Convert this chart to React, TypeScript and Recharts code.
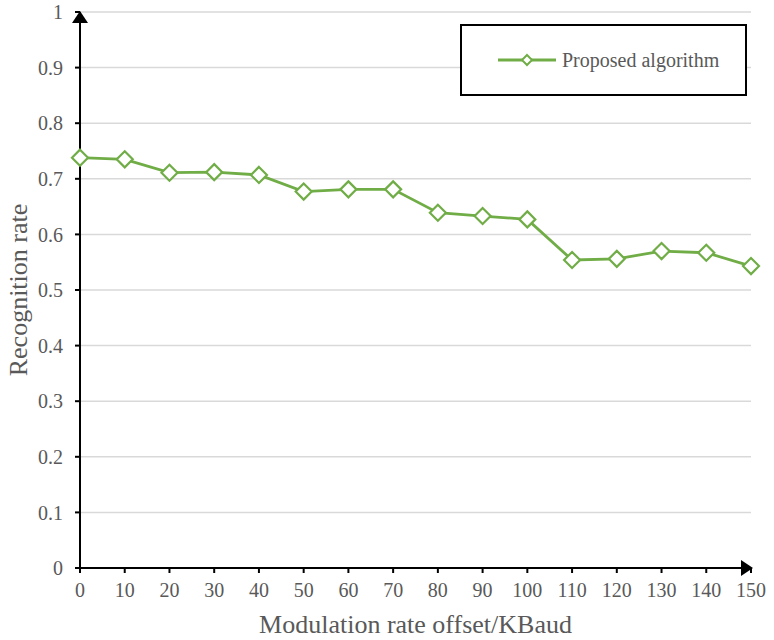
import { LineChart, Line, XAxis, YAxis, CartesianGrid, ReferenceDot } from 'recharts'

const offsets = [0, 10, 20, 30, 40, 50, 60, 70, 80, 90, 100, 110, 120, 130, 140, 150]
const recognition = [0.738, 0.735, 0.711, 0.712, 0.707, 0.677, 0.681, 0.681, 0.639, 0.633, 0.627, 0.554, 0.556, 0.570, 0.567, 0.543]
const yTicks = [0, 0.1, 0.2, 0.3, 0.4, 0.5, 0.6, 0.7, 0.8, 0.9, 1]
const seriesName = 'Proposed algorithm'

const data = offsets.map((x, i) => ({ x, rate: recognition[i] }))

const FONT = '"Liberation Serif", "DejaVu Serif", serif'
const GREEN = '#70AD47'
const TEXT = '#595959'

const Diamond = (props: any) => {
  const { cx, cy, index } = props
  const r = 8
  return (
    <path
      key={`d-${index}`}
      d={`M${cx},${cy - r} L${cx + r},${cy} L${cx},${cy + r} L${cx - r},${cy} Z`}
      fill='#fff'
      stroke={GREEN}
      strokeWidth={2.2}
    />
  )
}

const ArrowRight = ({ cx, cy }: any) => (
  <path d={`M${cx + 2},${cy} L${cx - 10},${cy - 8} L${cx - 10},${cy + 8} Z`} fill='#000' />
)

const ArrowUp = ({ cx, cy }: any) => (
  <path d={`M${cx},${cy - 1} L${cx - 8},${cy + 11} L${cx + 8},${cy + 11} Z`} fill='#000' />
)

const LegendBox = () => (
  <div
    style={{
      position: 'absolute',
      left: 460,
      top: 24,
      width: 283,
      height: 68,
      border: '2px solid #000',
      display: 'flex',
      alignItems: 'center',
      fontFamily: FONT,
      fontSize: 20,
      color: TEXT,
      background: '#fff',
    }}
  >
    <svg width={100} height={20} style={{ display: 'block' }}>
      <line x1={36} y1={10} x2={94} y2={10} stroke={GREEN} strokeWidth={2.8} />
      <path d='M65,5 L70,10 L65,15 L60,10 Z' fill='#fff' stroke={GREEN} strokeWidth={2} />
    </svg>
    <span>{seriesName}</span>
  </div>
)

export default function App() {
  return (
    <div style={{ position: 'absolute', left: 0, top: 0, width: 774, height: 640, background: '#fff' }}>
      <LineChart width={774} height={640} data={data} margin={{ top: 12, right: 23, left: 0, bottom: 0 }}>
        <CartesianGrid vertical={false} stroke='#d9d9d9' strokeWidth={1.5} />
        <XAxis
          dataKey='x'
          type='number'
          domain={[0, 150]}
          ticks={offsets}
          height={72}
          axisLine={{ stroke: '#000', strokeWidth: 2 }}
          tickLine={{ stroke: '#000', strokeWidth: 2 }}
          tickSize={5}
          tickMargin={10}
          tick={{ fill: TEXT, fontSize: 20, fontFamily: FONT }}
          label={{
            value: 'Modulation rate offset/KBaud',
            position: 'insideBottom',
            offset: 7,
            fill: TEXT,
            fontSize: 26,
            fontFamily: FONT,
          }}
        />
        <YAxis
          type='number'
          domain={[0, 1]}
          ticks={yTicks}
          width={80}
          axisLine={{ stroke: '#000', strokeWidth: 2 }}
          tickLine={{ stroke: '#000', strokeWidth: 2 }}
          tickSize={5}
          tickMargin={12}
          tick={{ fill: TEXT, fontSize: 20, fontFamily: FONT }}
          label={{
            value: 'Recognition rate',
            angle: -90,
            position: 'insideLeft',
            offset: 18,
            fill: TEXT,
            fontSize: 26,
            fontFamily: FONT,
            style: { textAnchor: 'middle' },
          }}
        />
        <Line
          type='linear'
          dataKey='rate'
          name={seriesName}
          stroke={GREEN}
          strokeWidth={2.8}
          dot={Diamond}
          activeDot={false}
          isAnimationActive={false}
        />
        <ReferenceDot x={150} y={0} r={0} ifOverflow='visible' shape={ArrowRight} />
        <ReferenceDot x={0} y={1} r={0} ifOverflow='visible' shape={ArrowUp} />
      </LineChart>
      <LegendBox />
    </div>
  )
}
